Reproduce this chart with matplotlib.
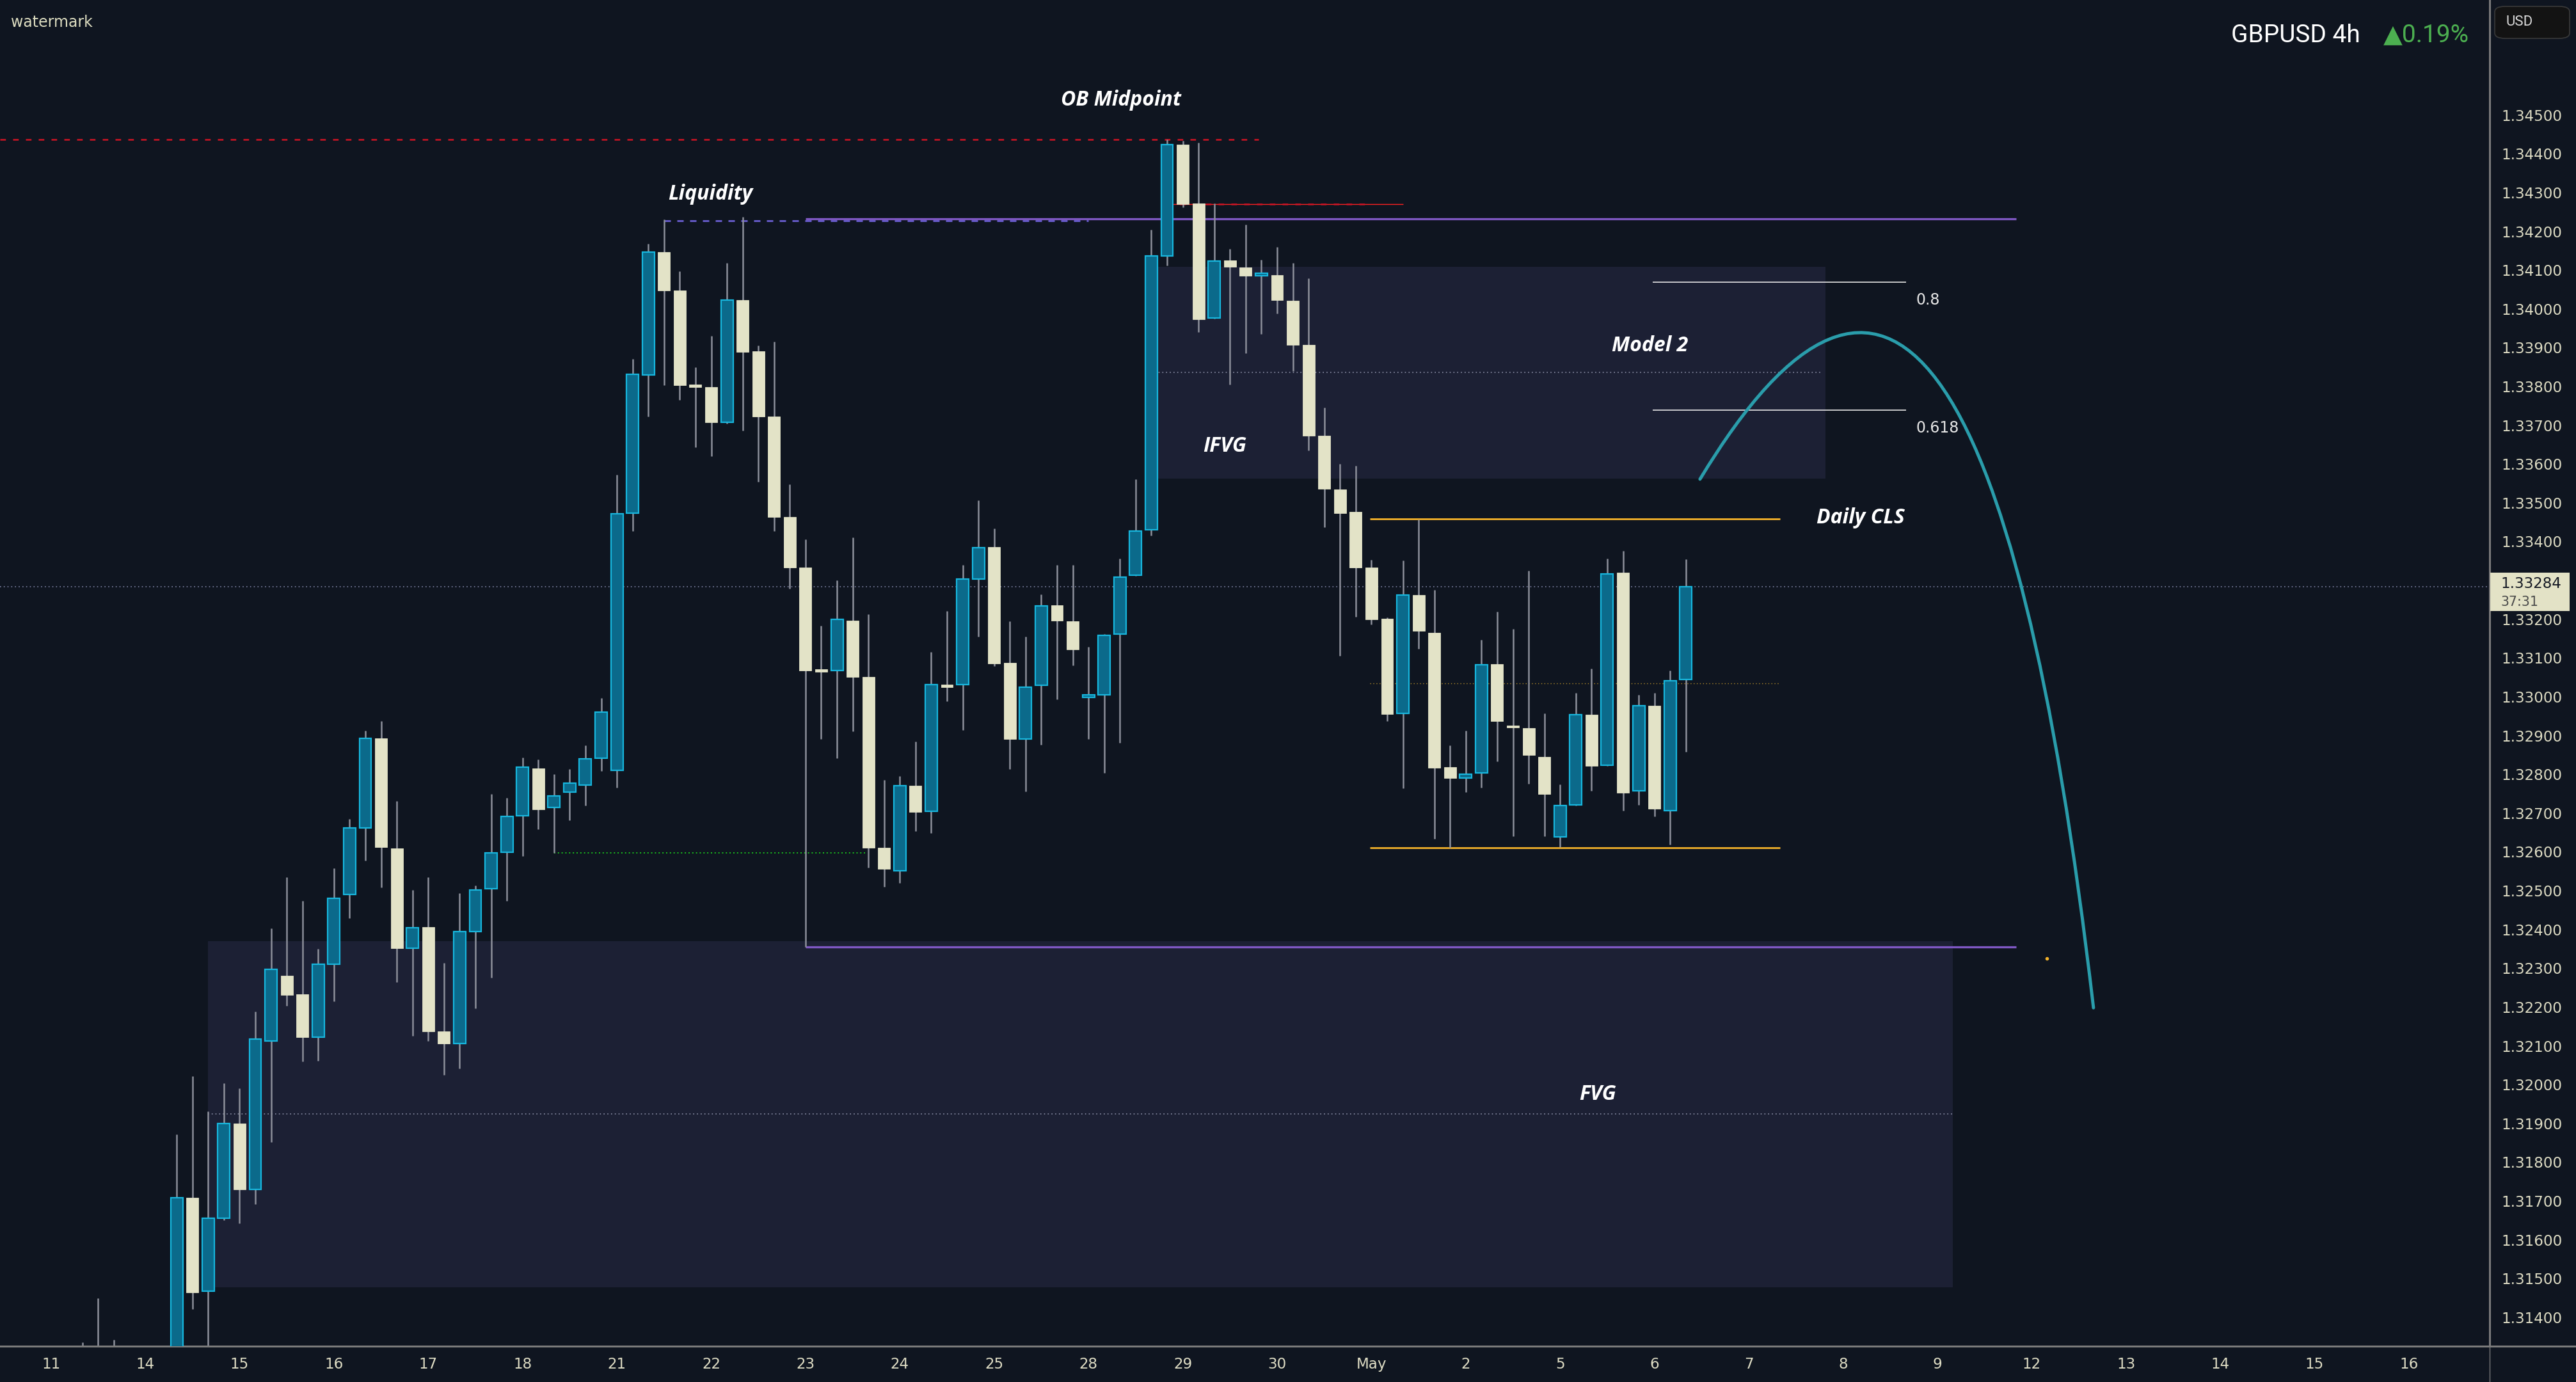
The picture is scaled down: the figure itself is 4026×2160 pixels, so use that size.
import matplotlib
matplotlib.use("Agg")
import matplotlib.pyplot as plt
import numpy as np
from matplotlib.patches import Rectangle, FancyBboxPatch, PathPatch
from matplotlib.path import Path
from matplotlib.lines import Line2D

# ---- data (GBPUSD 4h, bar index: 6 bars per trading day, Apr 11 = day 0) ----
bar_idx = [2, 3, 4] + list(range(8, 105))
opens = [1.3126, 1.3129, 1.3124,
         1.3128, 1.31709, 1.31467, 1.31655, 1.31899, 1.31729, 1.32113, 1.32281, 1.32233, 1.32122,
         1.32311, 1.3249, 1.32661, 1.32893, 1.32609, 1.32351, 1.32406, 1.32137, 1.32106, 1.32394,
         1.32505, 1.32599, 1.32693, 1.32816, 1.32714, 1.32754, 1.32772, 1.32841, 1.32811, 1.33473,
         1.3383, 1.34147, 1.34047, 1.33805, 1.33798, 1.33707, 1.34023, 1.3389, 1.33722, 1.33463,
         1.33334, 1.3307, 1.33067, 1.33197, 1.33051, 1.32611, 1.32552, 1.3277, 1.32704, 1.33032,
         1.33032, 1.33304, 1.33386, 1.33088, 1.32891, 1.33029, 1.33236, 1.33194, 1.32998, 1.33005,
         1.33161, 1.33314, 1.3343, 1.34136, 1.34424, 1.34272, 1.33977, 1.34125, 1.34107, 1.34086,
         1.34087, 1.34021, 1.33907, 1.33673, 1.33535, 1.33476, 1.33334, 1.33202, 1.32957, 1.33262,
         1.33165, 1.32818, 1.32791, 1.32803, 1.33084, 1.32924, 1.32919, 1.32845, 1.32639, 1.32722,
         1.32954, 1.32824, 1.3332, 1.32757, 1.32977, 1.32707, 1.33044]
highs = [1.31336, 1.3145, 1.31342,
         1.31872, 1.32021, 1.31931, 1.32004, 1.3199, 1.32188, 1.32403, 1.32535, 1.32473, 1.3235,
         1.32558, 1.32685, 1.32913, 1.32938, 1.32731, 1.32502, 1.32535, 1.32314, 1.32494, 1.32513,
         1.3275, 1.3274, 1.32843, 1.32839, 1.32801, 1.32813, 1.32875, 1.32996, 1.33572, 1.33871,
         1.34168, 1.3423, 1.34097, 1.33849, 1.3393, 1.34119, 1.34237, 1.33906, 1.33915, 1.33547,
         1.33406, 1.33183, 1.333, 1.3341, 1.33212, 1.32786, 1.32795, 1.32885, 1.33116, 1.33221,
         1.3334, 1.33507, 1.33433, 1.33194, 1.33155, 1.33264, 1.3334, 1.3334, 1.33128, 1.33162,
         1.33356, 1.33561, 1.34204, 1.34436, 1.34434, 1.34428, 1.34272, 1.34155, 1.34218, 1.34127,
         1.34159, 1.34118, 1.34079, 1.33745, 1.336, 1.33596, 1.33353, 1.33204, 1.33351, 1.33457,
         1.33275, 1.32875, 1.32913, 1.33146, 1.3322, 1.33174, 1.33325, 1.32957, 1.32774, 1.3301,
         1.33073, 1.33357, 1.33376, 1.33005, 1.3301, 1.33068, 1.33355]
lows = [1.3120, 1.3122, 1.3118,
        1.3126, 1.31421, 1.3131, 1.3165, 1.31642, 1.31692, 1.31852, 1.32203, 1.3206, 1.32062,
        1.32214, 1.3243, 1.32577, 1.32508, 1.32265, 1.32126, 1.32113, 1.32025, 1.32042, 1.32197,
        1.32275, 1.32474, 1.32589, 1.32658, 1.32597, 1.32681, 1.32719, 1.32809, 1.32765, 1.33428,
        1.33722, 1.33803, 1.33765, 1.33643, 1.3362, 1.33705, 1.33687, 1.33555, 1.33428, 1.33279,
        1.32355, 1.32891, 1.32841, 1.32911, 1.3256, 1.3251, 1.3252, 1.32654, 1.32648, 1.32989,
        1.32914, 1.33155, 1.33079, 1.32814, 1.32756, 1.32877, 1.32993, 1.3308, 1.32891, 1.32803,
        1.32882, 1.33312, 1.33416, 1.34112, 1.34262, 1.3394, 1.33975, 1.33805, 1.33886, 1.33936,
        1.33988, 1.33839, 1.33635, 1.33437, 1.33105, 1.33206, 1.33187, 1.32938, 1.32764, 1.33124,
        1.32634, 1.3261, 1.32754, 1.32766, 1.32833, 1.32641, 1.32775, 1.32641, 1.32612, 1.3272,
        1.32757, 1.32822, 1.32707, 1.32722, 1.32692, 1.32619, 1.32858]
closes = [1.3129, 1.3124, 1.3121,
          1.31709, 1.31464, 1.31656, 1.31899, 1.3173, 1.32117, 1.32297, 1.32231, 1.32122, 1.32311,
          1.32481, 1.32661, 1.32893, 1.32612, 1.32352, 1.32405, 1.32137, 1.32106, 1.32395, 1.32502,
          1.32598, 1.32691, 1.32818, 1.32709, 1.32745, 1.32777, 1.3284, 1.32961, 1.33472, 1.33831,
          1.34147, 1.34047, 1.33804, 1.33798, 1.33707, 1.34023, 1.33889, 1.33722, 1.33463, 1.33334,
          1.33067, 1.33065, 1.332, 1.33051, 1.3261, 1.32556, 1.3277, 1.32703, 1.33032, 1.33024,
          1.33304, 1.33385, 1.33086, 1.32891, 1.33025, 1.33235, 1.33196, 1.33122, 1.33005, 1.33159,
          1.33308, 1.33428, 1.34136, 1.34424, 1.3427, 1.33974, 1.34123, 1.34108, 1.34085, 1.3409,
          1.34022, 1.33907, 1.33673, 1.33536, 1.33474, 1.33334, 1.332, 1.32956, 1.33262, 1.3317,
          1.32817, 1.3279, 1.328, 1.33083, 1.32937, 1.3292, 1.3285, 1.3275, 1.3272, 1.32954,
          1.32821, 1.33317, 1.32752, 1.32977, 1.32712, 1.33041, 1.33284]

day_labels = ['11', '14', '15', '16', '17', '18', '21', '22', '23', '24', '25', '28', '29',
              '30', 'May', '2', '5', '6', '7', '8', '9', '12', '13', '14', '15', '16']
price_ticks = np.arange(1.314, 1.3455, 0.001)

last_price = 1.33284
ob_high = 1.34437        # OB top dashed
ob_mid = 1.3427          # OB midpoint
liq_level = 1.34232      # liquidity
range_low = 1.32355
ifvg_top, ifvg_bot = 1.34108, 1.33563
fvg_top, fvg_bot = 1.3237, 1.31478
cls_high, cls_low = 1.33458, 1.3261
fib_08, fib_0618 = 1.34069, 1.33739
swing_low = 1.32597
curve_pts = [(104.9, 1.33561), (122.6, 1.3475), (129.93, 1.32198)]

# ---- style ----
BG = '#0f1520'
BOX = '#1c2034'
UP_FACE, UP_EDGE = '#0b6a8b', '#17b6dd'
DN = '#e3e3c7'
WICK = '#8c8f9a'
TXT = '#dedcc4'
PURPLE = '#7e57c2'
ORANGE = '#f2b12a'
RED = '#cc1424'

W, H, DPI = 4026, 2160, 200
fig = plt.figure(figsize=(W / DPI, H / DPI), dpi=DPI)
fig.patch.set_facecolor(BG)
ax = fig.add_axes([0, 56 / H, 3891 / W, 1 - 56 / H])
ax.set_facecolor(BG)
ax.set_xlim(-3.24, 155.13)
ax.set_ylim(1.313256, 1.347964)

# boxes
ax.add_patch(Rectangle((70.3, ifvg_bot), 112.9 - 70.3, ifvg_top - ifvg_bot, fc=BOX, ec='none', zorder=0.5))
ax.add_patch(Rectangle((10, fvg_bot), 121.0 - 10, fvg_top - fvg_bot, fc=BOX, ec='none', zorder=0.5))
ax.hlines((ifvg_top + ifvg_bot) / 2, 70, 112.7, colors='#8c90a8', lw=0.6, linestyles=(0, (1, 2.5)), zorder=1)
ax.hlines((fvg_top + fvg_bot) / 2, 10, 121.0, colors='#8c90a8', lw=0.6, linestyles=(0, (1, 2.5)), zorder=1)

# price line
ax.axhline(last_price, color='#7f84a6', lw=0.6, ls=(0, (1, 2.5)), zorder=1)

# levels
ax.hlines(ob_high, -3.24, 76.8, colors=RED, lw=0.9, linestyles=(0, (3.5, 4.5)), zorder=1)
ax.hlines(ob_mid, 71, 86, colors='#ff2020', lw=0.5, zorder=1)
ax.hlines(ob_mid, 71, 84, colors=RED, lw=0.9, linestyles=(0, (3.5, 4.5)), zorder=1)
ax.hlines(liq_level - 0.00004, 39, 66, colors='#7466e4', lw=0.9, linestyles=(0, (4, 4)), zorder=1)
ax.hlines(liq_level, 48, 125, colors=PURPLE, lw=1.2, zorder=1)
ax.hlines(range_low, 48, 125, colors=PURPLE, lw=1.2, zorder=1)
ax.hlines([cls_high, cls_low], 83.9, 110.0, colors=ORANGE, lw=1.0, zorder=1)
ax.hlines((cls_high + cls_low) / 2, 83.9, 110.0, colors='#b08a2a', lw=0.5, linestyles=(0, (1, 2.5)), zorder=1)
ax.hlines([fib_08, fib_0618], 101.9, 118.0, colors='#e6e6e6', lw=0.6, zorder=1)
ax.hlines(swing_low, 32, 51.8, colors='#19c21e', lw=0.7, linestyles=(0, (1, 2)), zorder=1)

# candles
ax.vlines(bar_idx, lows, highs, colors=WICK, lw=0.9, zorder=2)
x_up, b_up, h_up, x_dn, b_dn, h_dn = [], [], [], [], [], []
for x, o, c in zip(bar_idx, opens, closes):
    hgt = max(abs(c - o), 0.00006)
    if c >= o:
        x_up.append(x); b_up.append(min(o, c)); h_up.append(hgt)
    else:
        x_dn.append(x); b_dn.append(min(o, c)); h_dn.append(hgt)
ax.bar(x_up, h_up, bottom=b_up, width=0.77, color=UP_FACE, edgecolor=UP_EDGE, linewidth=0.8, zorder=3)
ax.bar(x_dn, h_dn, bottom=b_dn, width=0.77, color=DN, edgecolor=DN, linewidth=0.3, zorder=3)

# projection curve
curve = Path(curve_pts, [Path.MOVETO, Path.CURVE3, Path.CURVE3])
ax.add_patch(PathPatch(curve, fc='none', ec='#2a9dab', lw=1.8, capstyle='round', zorder=4))
ax.plot([126.96], [1.32325], marker='o', ms=1.0, color=ORANGE, zorder=4)

# labels on chart
lab = dict(color='white', fontsize=11.5, fontweight='bold', fontstyle='italic',
           family=['Open Sans', 'DejaVu Sans'], ha='center', va='baseline', zorder=5)
ax.text(68.07, 1.34524, 'OB Midpoint', **lab)
ax.text(41.94, 1.34281, 'Liquidity', **lab)
ax.text(74.66, 1.33631, 'IFVG', **lab)
ax.text(101.7, 1.3389, 'Model 2', **lab)
ax.text(115.1, 1.33447, 'Daily CLS', **lab)
ax.text(98.4, 1.3196, 'FVG', **lab)
ax.text(118.65, 1.34011, '0.8', color='#e6e6e6', fontsize=8.5, va='baseline', ha='left')
ax.text(118.65, 1.33681, '0.618', color='#e6e6e6', fontsize=8.5, va='baseline', ha='left')

# axes
for s in ['top', 'left']:
    ax.spines[s].set_visible(False)
ax.spines['right'].set_color('#7a7a7a')
ax.spines['right'].set_linewidth(1.1)
ax.spines['bottom'].set_color('#7a7a7a')
ax.spines['bottom'].set_linewidth(1.1)
ax.yaxis.tick_right()
ax.set_yticks(price_ticks)
ax.set_yticklabels([f'{p:.5f}' for p in price_ticks])
ax.tick_params(axis='y', length=0, pad=6.5, labelsize=8.3, labelcolor=TXT)
ax.set_xticks([6 * k for k in range(len(day_labels))])
ax.set_xticklabels(day_labels)
ax.tick_params(axis='x', length=0, pad=6, labelsize=8.3, labelcolor=TXT)

# axis line extensions
fig.add_artist(Line2D([3891 / W, 1], [56 / H, 56 / H], color='#7a7a7a', lw=1.1))
fig.add_artist(Line2D([3891 / W, 3891 / W], [0, 56 / H], color='#7a7a7a', lw=0.5))

# last price tag
fig.add_artist(Rectangle((3892 / W, 1 - 955 / H), 124 / W, 60 / H, fc='#e3e2c6', ec='none',
                         transform=fig.transFigure, zorder=5))
fig.text(3908 / W, 1 - 912 / H, f'{last_price:.5f}', color='#131722', fontsize=8.3, va='center', zorder=6)
fig.text(3908 / W, 1 - 941 / H, '37:31', color='#4a4a4a', fontsize=7.4, va='center', zorder=6)

# header
fig.text(17 / W, 1 - 41.7 / H, 'watermark', color='#dcdcc0', fontsize=8.5, va='baseline')
fig.text(3859 / W, 1 - 55 / H, '\u25b20.19%', color='#4caf50', fontsize=14,
         family=['Roboto', 'DejaVu Sans'], ha='right', va='center')
fig.text(3689 / W, 1 - 55 / H, 'GBPUSD 4h', color='white', fontsize=14,
         family=['Roboto', 'DejaVu Sans'], ha='right', va='center')
fig.add_artist(FancyBboxPatch((3899 / W, 1 - 60 / H), 117 / W, 50 / H,
                              boxstyle='round,pad=0,rounding_size=0.004', fc='#131313', ec='#3a3a3a',
                              lw=0.6, transform=fig.transFigure))
fig.text(3917 / W, 1 - 35 / H, 'USD', color='#d8d8d8', fontsize=8, va='center',
         family=['Roboto', 'DejaVu Sans'])

fig.savefig('out.png', dpi=DPI, facecolor=BG)
